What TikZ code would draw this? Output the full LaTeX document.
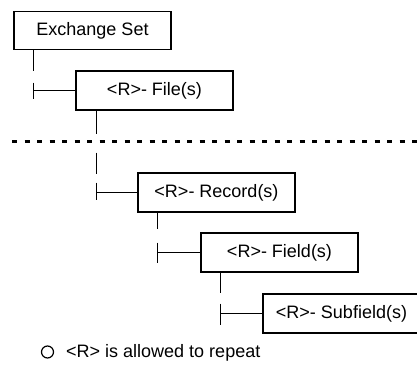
\documentclass[tikz,border=0pt]{standalone}
\usepackage{fontspec}
\setmainfont{Liberation Sans}
\begin{document}
\begin{tikzpicture}[x=1pt,y=-1pt,
  box/.style={draw, line width=1.1pt, minimum width=157pt, minimum height=39pt, inner sep=0pt, font=\fontsize{18}{21}\selectfont},
  conn/.style={line width=1.6pt},
  dotline/.style={line width=3pt, dash pattern=on 5pt off 7.5pt},
  legtext/.style={inner sep=0pt, anchor=west, font=\fontsize{18}{21}\selectfont}]
\useasboundingbox (0,0) rectangle (417,367);
\clip (0,0) rectangle (417,367);
\fill[white] (0,0) rectangle (417,367);
% boxes
\node[box, minimum height=38pt] (ex) at (92.5,30.5) {Exchange Set};
\node[box] (file) at (154.5,90.5) {<R>- File(s)};
\node[box] (rec) at (216.5,192.5) {<R>- Record(s)};
\node[box] (field) at (279.5,252.5) {<R>- Field(s)};
\node[box] (sub) at (341.5,313.5) {<R>- Subfield(s)};
% tick coordinates
\coordinate (t1) at ([xshift=20pt]ex.south west |- file.west);
\coordinate (t2) at ([xshift=21pt]file.south west |- rec.west);
\coordinate (t3) at ([xshift=20pt]rec.south west |- field.west);
\coordinate (t4) at ([xshift=20pt]field.south west |- sub.west);
% Exchange Set -> File
\draw[conn] ([xshift=20pt]ex.south west) -- ++(0,21);
\draw[conn] (t1) ++(0,-8) -- ++(0,16);
\draw[conn] (t1) -- (file.west);
% File -> Record
\draw[conn] ([xshift=21pt]file.south west) -- ++(0,23);
\draw[conn] (t2) ++(0,-40) -- ++(0,21);
\draw[conn] (t2) ++(0,-10) -- ++(0,17);
\draw[conn] (t2) -- (rec.west);
% Record -> Field
\draw[conn] ([xshift=20pt]rec.south west) -- ++(0,16);
\draw[conn] (t3) ++(0,-10) -- ++(0,20);
\draw[conn] (t3) -- (field.west);
% Field -> Subfield
\draw[conn] ([xshift=20pt]field.south west) -- ++(0,20);
\draw[conn] (t4) ++(0,-10) -- ++(0,21);
\draw[conn] (t4) -- (sub.west);
% dotted separator
\coordinate (d1) at (12,141);
\coordinate (d2) at (417,141);
\draw[dotline] (d1) -- (d2);
% legend
\node[draw, circle, line width=1.2pt, minimum size=12pt, inner sep=0pt] (lc) at (47.5,352) {};
\node[legtext] (lt) at (66,353) {<R> is allowed to repeat};
\end{tikzpicture}
\end{document}
